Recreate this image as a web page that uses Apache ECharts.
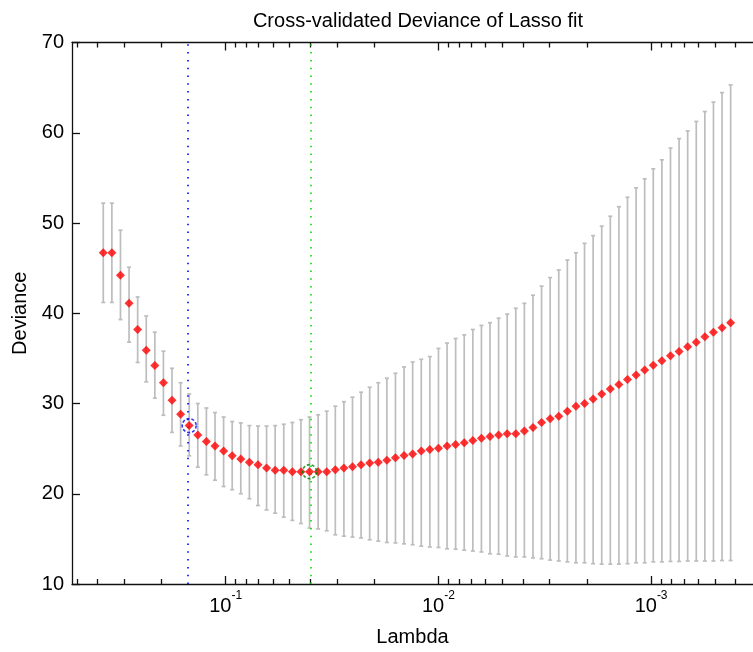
<!DOCTYPE html>
<html><head><meta charset="utf-8">
<script src="https://cdn.jsdelivr.net/npm/echarts@6/dist/echarts.min.js"></script>
<style>html,body{margin:0;padding:0;background:#fff}#c{width:753px;height:652px}</style>
</head><body><div id="c"></div>
<script>
// log10(Lambda) of each fitted point
const lambdaLog10 = [-0.4245,-0.4649,-0.5053,-0.5457,-0.5861,-0.6265,-0.6669,-0.7073,-0.7477,-0.7881,
 -0.8285,-0.8689,-0.9093,-0.9498,-0.9902,-1.0306,-1.0710,-1.1114,-1.1518,-1.1922,
 -1.2326,-1.2730,-1.3134,-1.3538,-1.3942,-1.4346,-1.4750,-1.5154,-1.5558,-1.5962,
 -1.6366,-1.6770,-1.7174,-1.7578,-1.7982,-1.8386,-1.8790,-1.9194,-1.9598,-2.0003,
 -2.0407,-2.0811,-2.1215,-2.1619,-2.2023,-2.2427,-2.2831,-2.3235,-2.3639,-2.4043,
 -2.4447,-2.4851,-2.5255,-2.5659,-2.6063,-2.6467,-2.6871,-2.7275,-2.7679,-2.8083,
 -2.8487,-2.8891,-2.9295,-2.9699,-3.0103,-3.0508,-3.0912,-3.1316,-3.1720,-3.2124,
 -3.2528,-3.2932,-3.3336,-3.3740];
const meanDeviance = [46.7,46.7,44.2,41.1,38.2,35.9,34.2,32.3,30.35,28.8,
 27.55,26.5,25.8,25.3,24.75,24.2,23.85,23.5,23.2,22.85,
 22.6,22.6,22.45,22.45,22.45,22.45,22.45,22.65,22.85,23.0,
 23.2,23.4,23.5,23.7,24.0,24.25,24.4,24.75,24.9,25.05,
 25.3,25.45,25.65,25.9,26.15,26.35,26.5,26.65,26.65,26.95,
 27.35,27.9,28.3,28.6,29.15,29.7,30.0,30.5,31.05,31.6,
 32.1,32.65,33.15,33.7,34.25,34.75,35.3,35.75,36.3,36.8,
 37.4,37.9,38.4,38.95];
const upperDeviance = [52.2,52.2,49.2,45.1,41.8,39.7,37.9,35.8,33.9,32.3,
 31.05,30.0,29.5,29.0,28.5,28.0,27.85,27.55,27.5,27.5,
 27.55,27.7,27.9,28.2,28.5,28.75,29.15,29.7,30.2,30.7,
 31.25,31.8,32.3,32.8,33.35,34.05,34.6,34.9,35.2,36.1,
 36.7,37.2,37.6,38.2,38.65,38.95,39.45,39.9,40.55,41.1,
 42.0,43.0,43.95,44.8,45.9,46.7,47.75,48.6,49.65,50.75,
 51.8,52.85,53.9,54.9,56.0,57.0,58.3,59.35,60.2,61.25,
 62.35,63.4,64.45,65.3];
const lowerDeviance = [41.2,41.2,39.3,36.8,34.55,32.4,30.6,28.7,26.8,25.3,
 24.2,22.95,22.1,21.5,20.8,20.45,20.0,19.45,18.7,18.2,
 17.85,17.4,17.05,16.7,16.2,16.1,15.9,15.45,15.3,15.2,
 15.1,14.9,14.75,14.6,14.55,14.45,14.35,14.2,14.1,14.05,
 13.9,13.85,13.75,13.65,13.55,13.35,13.3,13.1,13.0,13.0,
 12.9,12.8,12.65,12.55,12.45,12.35,12.35,12.25,12.2,12.2,
 12.2,12.25,12.35,12.35,12.45,12.45,12.5,12.5,12.55,12.55,
 12.55,12.55,12.6,12.6];
const index1SE = 10;      // blue: Lambda with minimum deviance + 1 SE
const indexMinDev = 24;   // green: Lambda with minimum deviance
const majorTicks = [1e-1, 1e-2, 1e-3];
const yTicks = [10, 20, 30, 40, 50, 60, 70];
const titleText = 'Cross-validated Deviance of Lasso fit';
const xName = 'Lambda';
const yName = 'Deviance';

const lambda = lambdaLog10.map(v => Math.pow(10, v));
const minorTicks = [];
[-1, -2, -3, -4].forEach(k => { for (let m = 2; m <= 9; m++) minorTicks.push(m * Math.pow(10, k)); });

const FONT = '"Liberation Sans", Arial, sans-serif';
const X_MIN = 3.318e-4, X_MAX = 0.5279;
const axisCol = '#111';

function xAxisDef(pos, ticks, len, withLabel, withLine) {
  return {
    type: 'log', logBase: 10, position: pos, inverse: true, min: X_MIN, max: X_MAX,
    splitLine: {show: false},
    axisLine: {show: withLine, onZero: false, lineStyle: {color: axisCol, width: 1.3}},
    axisTick: {show: true, inside: true, length: len, customValues: ticks, lineStyle: {color: axisCol, width: 1.3}},
    axisLabel: withLabel ? {
      show: true, customValues: majorTicks, margin: 12, fontFamily: FONT, color: '#000',
      formatter: v => '{b|10}{s|' + Math.round(Math.log10(v)) + '}',
      rich: {
        b: {fontSize: 20, lineHeight: 20, fontFamily: FONT, color: '#000', verticalAlign: 'bottom'},
        s: {fontSize: 12, lineHeight: 12, fontFamily: FONT, color: '#000', verticalAlign: 'bottom', padding: [0, 0, 14, 0]}
      }
    } : {show: false},
    name: withLabel ? xName : '', nameLocation: 'middle', nameGap: 43,
    nameTextStyle: {fontSize: 20, fontFamily: FONT, color: '#000'}
  };
}

const chart = echarts.init(document.getElementById('c'), null, {renderer: 'canvas'});
chart.setOption({
  animation: false,
  backgroundColor: '#fff',
  title: {text: titleText, left: 413, top: 6, textAlign: 'center',
    textStyle: {fontSize: 20, fontWeight: 'normal', fontFamily: FONT, color: '#000'}},
  grid: {left: 72, top: 42.5, right: 0, bottom: 66.5, containLabel: false},
  xAxis: [
    xAxisDef('bottom', majorTicks, 8, true, true),
    xAxisDef('bottom', minorTicks, 5, false, false),
    xAxisDef('top', majorTicks, 8, false, true),
    xAxisDef('top', minorTicks, 5, false, false)
  ],
  yAxis: [{
    type: 'value', min: yTicks[0], max: yTicks[yTicks.length - 1], interval: 10,
    splitLine: {show: false},
    axisLine: {show: true, lineStyle: {color: axisCol, width: 1.3}},
    axisTick: {show: true, inside: true, length: 8, lineStyle: {color: axisCol, width: 1.3}},
    axisLabel: {fontSize: 20, fontFamily: FONT, color: '#000', margin: 8},
    name: yName, nameLocation: 'middle', nameGap: 41, nameRotate: 90,
    nameTextStyle: {fontSize: 20, fontFamily: FONT, color: '#000'}
  }],
  series: [
    {
      type: 'custom', xAxisIndex: 0, yAxisIndex: 0, z: 2, silent: true,
      data: lambda.map((l, i) => [l, lowerDeviance[i], upperDeviance[i]]),
      encode: {x: 0, y: [1, 2]},
      renderItem: function (params, api) {
        const x = api.value(0);
        const lo = api.coord([x, api.value(1)]);
        const hi = api.coord([x, api.value(2)]);
        const w = 2;
        const st = {stroke: '#bdbdbd', lineWidth: 1.7};
        return {type: 'group', children: [
          {type: 'line', shape: {x1: lo[0], y1: lo[1], x2: hi[0], y2: hi[1]}, style: st},
          {type: 'line', shape: {x1: lo[0] - w, y1: lo[1], x2: lo[0] + w, y2: lo[1]}, style: st},
          {type: 'line', shape: {x1: hi[0] - w, y1: hi[1], x2: hi[0] + w, y2: hi[1]}, style: st}
        ]};
      }
    },
    {
      type: 'scatter', xAxisIndex: 0, yAxisIndex: 0, z: 3, silent: true, data: [],
      markLine: {
        silent: true, symbol: ['none', 'none'], label: {show: false}, animation: false,
        lineStyle: {type: [1.5, 6.3], width: 1.6},
        data: [
          {xAxis: lambda[index1SE], lineStyle: {color: '#0000ff'}},
          {xAxis: lambda[indexMinDev], lineStyle: {color: '#00dd00'}}
        ]
      }
    },
    {
      type: 'scatter', xAxisIndex: 0, yAxisIndex: 0, z: 5, silent: true,
      symbol: 'diamond', symbolSize: [9, 9],
      itemStyle: {color: '#ff0000'},
      data: lambda.map((l, i) => [l, meanDeviance[i]])
    },
    {
      type: 'scatter', xAxisIndex: 0, yAxisIndex: 0, z: 6, silent: true,
      symbol: 'circle', symbolSize: 14,
      itemStyle: {color: 'rgba(0,0,0,0)', borderColor: '#0000ff', borderWidth: 1.6, borderType: [3, 2]},
      data: [[lambda[index1SE], meanDeviance[index1SE]]]
    },
    {
      type: 'scatter', xAxisIndex: 0, yAxisIndex: 0, z: 6, silent: true,
      symbol: 'circle', symbolSize: 14,
      itemStyle: {color: 'rgba(0,0,0,0)', borderColor: '#008000', borderWidth: 1.6, borderType: [3, 2]},
      data: [[lambda[indexMinDev], meanDeviance[indexMinDev]]]
    }
  ]
});
</script>
</body></html>
